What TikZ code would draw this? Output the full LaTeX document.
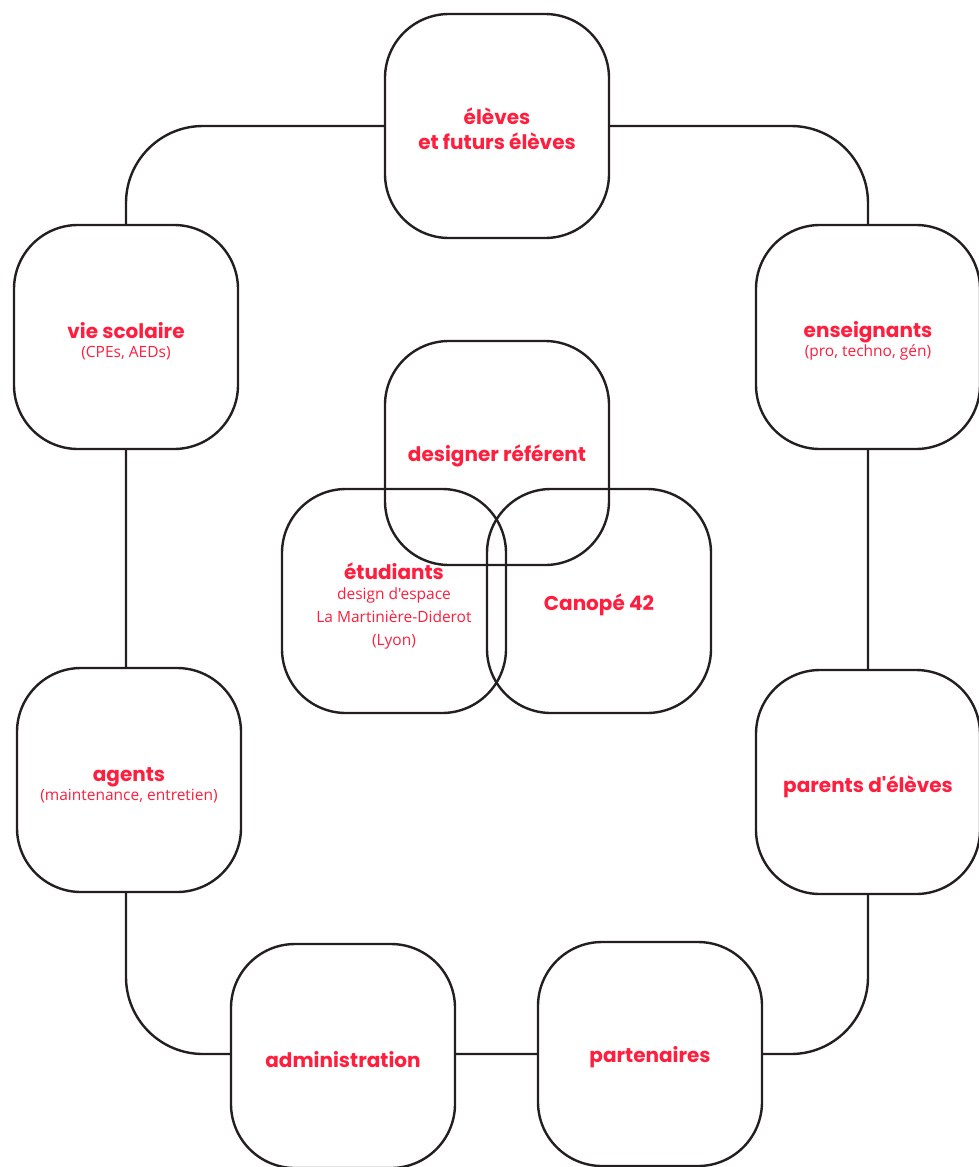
\documentclass[tikz,border=0pt]{standalone}
\usepackage{fontspec}
\setmainfont{Open Sans}[Ligatures=TeXOff]
\newfontfamily\titlefont{Poppins}
\usetikzlibrary{backgrounds}
\definecolor{rd}{RGB}{255,30,62}
\definecolor{lc}{RGB}{35,31,32}
\newcommand{\ttl}[1]{{\titlefont\bfseries\fontsize{20}{25}\selectfont #1}}
\tikzset{
  box/.style={draw=lc, line width=2.4pt, rounded corners=64pt, minimum width=224pt, minimum height=224pt, inner sep=0pt},
  outerbox/.style={box, fill=white},
  txt/.style={inner sep=0pt, align=center, text=rd, font=\fontsize{15.5}{22}\selectfont},
  loopline/.style={draw=lc, line width=2.4pt, rounded corners=77pt}
}
\begin{document}
\begin{tikzpicture}[x=1pt,y=-1pt]
\useasboundingbox (0,0) rectangle (978,1167);
\node[outerbox] (eleves) at (497,126) {};
\node[outerbox] (vie) at (126,337) {};
\node[outerbox] (ens) at (868,337) {};
\node[outerbox] (agents) at (129,780) {};
\node[outerbox] (parents) at (868,782) {};
\node[outerbox] (admin) at (343,1056) {};
\node[outerbox] (part) at (650,1054) {};
\node[box] (designer) at (497,453) {};
\node[box] (etud) at (394,601) {};
\node[box] (canope) at (599,601) {};
\node[txt] (eleves-t) at (497,129) {\ttl{élèves}\\[3pt]\ttl{et futurs élèves}};
\node[txt] (vie-t) at (126,341) {\ttl{vie scolaire}\\[-3pt](CPEs, AEDs)};
\node[txt] (ens-t) at (868,341) {\ttl{enseignants}\\[-3pt](pro, techno, gén)};
\node[txt] (agents-t) at (129,785) {\ttl{agents}\\[-3pt](maintenance, entretien)};
\node[txt] (parents-t) at (868,787) {\ttl{parents d'élèves}};
\node[txt] (admin-t) at (343,1060) {\ttl{administration}};
\node[txt] (part-t) at (650,1057) {\ttl{partenaires}};
\node[txt] (designer-t) at (497,456) {\ttl{designer référent}};
\node[txt] (etud-t) at (394,606) {\ttl{étudiants}\\[-2pt]design d'espace\\[1pt]La Martinière-Diderot\\[0.5pt](Lyon)};
\node[txt] (canope-t) at (599,605) {\ttl{Canopé 42}};
\begin{scope}[on background layer]
\draw[loopline] (vie.center) |- (eleves.center) -| (ens.center) -- (parents.center) |- (part.center) -| (vie.center) -- cycle;
\end{scope}
\end{tikzpicture}
\end{document}
